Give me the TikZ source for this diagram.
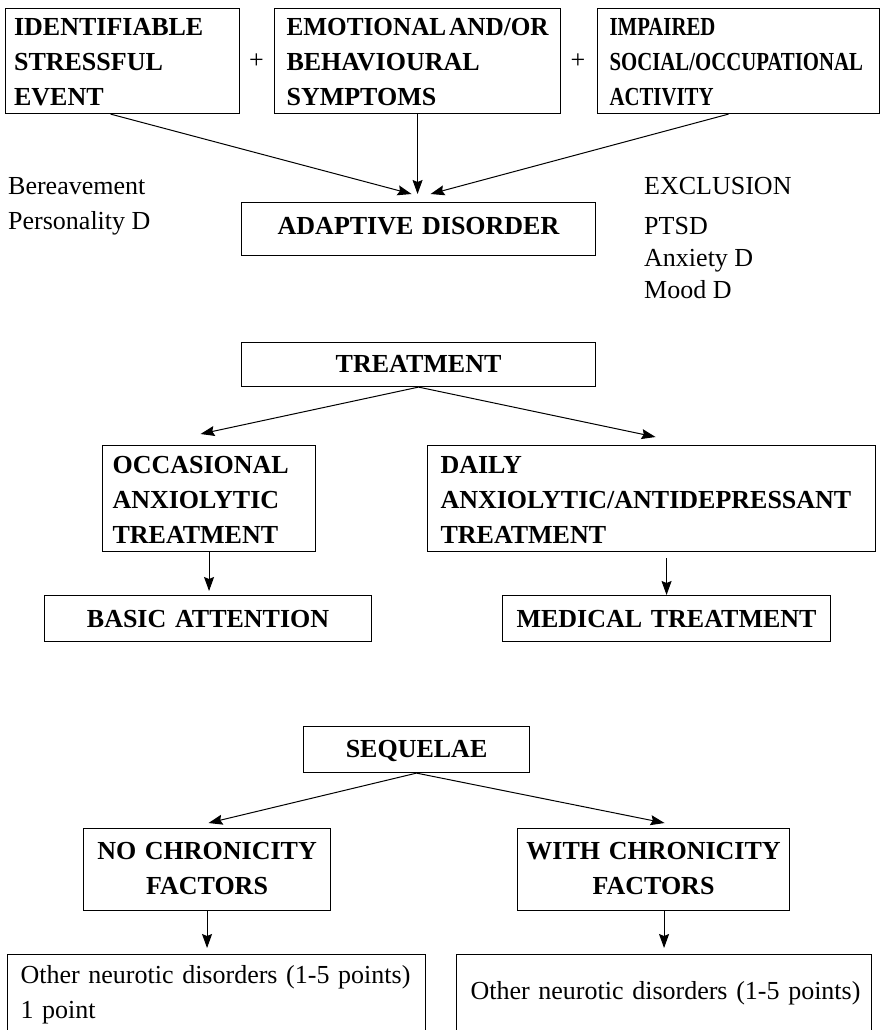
\documentclass[tikz,border=0pt]{standalone}
\usepackage{fontspec}
\setmainfont{Liberation Serif}
\usetikzlibrary{arrows.meta}
\begin{document}
\begin{tikzpicture}[x=1pt,y=-1pt,
  bx/.style={draw, line width=1.1pt, anchor=north west, inner ysep=0pt,
    font=\fontsize{26}{35}\selectfont\bfseries},
  lbx/.style={bx, align=left, inner xsep=#1},
  cbx/.style={bx, align=center, inner xsep=0pt},
  plain/.style={anchor=base west, inner sep=0pt, font=\fontsize{26}{35}\selectfont},
  arr/.style={-{Stealth[length=14pt,width=10pt,inset=2pt]}, line width=1pt}
]
\clip (0,0) rectangle (882,1030);
\fill[white] (0,0) rectangle (882,1030);

% top row
\node[lbx=9pt, text width=216.5pt, text height=26.6pt, text depth=78.4pt] (b1) at (4.5,8)
  {IDENTIFIABLE\\STRESSFUL\\EVENT};
\node[lbx=12pt, text width=262pt, text height=26.6pt, text depth=78.4pt] (b2) at (274,8)
  {\scalebox{0.97}[1]{EMOTIONAL\hspace{3pt}AND/OR}\\BEHAVIOURAL\\SYMPTOMS};
\node[lbx=12pt, text width=258pt, text height=26.6pt, text depth=78.4pt] (b3) at (597,8)
  {\scalebox{0.8}[1]{IMPAIRED}\\\scalebox{0.8}[1]{SOCIAL/OCCUPATIONAL}\\\scalebox{0.8}[1]{ACTIVITY}};
\node[font=\fontsize{26}{35}\selectfont, inner sep=0pt] (p1) at (256.5,61) {+};
\node[font=\fontsize{26}{35}\selectfont, inner sep=0pt] (p2) at (578,61) {+};

\node[cbx, text width=354pt, text height=31.6pt, text depth=21.4pt] (adapt) at (241,202)
  {ADAPTIVE DISORDER};

\draw[arr] ([xshift=-11.75pt]b1.south) -- ([xshift=-7pt,yshift=8pt]adapt.north);
\draw[arr] (b2.south) -- ([xshift=-1pt,yshift=8pt]adapt.north);
\draw[arr] ([xshift=-10pt]b3.south) -- ([xshift=12pt,yshift=8pt]adapt.north);

\node[plain] (ber) at (8,194.6) {Bereavement};
\node[plain] (pers) at (8,229.6) {Personality D};
\node[plain] (excl) at (644,194) {EXCLUSION};
\node[plain] (ptsd) at (644,234) {PTSD};
\node[plain] (anx) at (644,266) {Anxiety D};
\node[plain] (mood) at (644,298) {Mood D};

% treatment
\node[cbx, text width=354pt, text height=29.6pt, text depth=14.4pt] (treat) at (241,342)
  {TREATMENT};
\node[lbx=10pt, text width=193pt, text height=27.6pt, text depth=78.4pt] (occ) at (102,445)
  {OCCASIONAL\\ANXIOLYTIC\\TREATMENT};
\node[lbx=13pt, text width=422pt, text height=27.6pt, text depth=78.4pt] (daily) at (427,445)
  {DAILY\\ANXIOLYTIC/ANTIDEPRESSANT\\TREATMENT};
\node[cbx, text width=327pt, text height=31.6pt, text depth=14.4pt] (basic) at (44,595)
  {BASIC ATTENTION};
\node[cbx, text width=328pt, text height=31.6pt, text depth=14.4pt] (med) at (502,595)
  {MEDICAL TREATMENT};

\draw[arr] (treat.south) -- ([xshift=-8.5pt,yshift=11pt]occ.north);
\draw[arr] (treat.south) -- ([xshift=4pt,yshift=8pt]daily.north);
\draw[arr, shorten >=4pt] (occ.south) -- (occ.south |- basic.north);
\draw[arr, shorten <=6pt] (daily.south -| med.north) -- (med.north);

% sequelae
\node[cbx, text width=226pt, text height=30.6pt, text depth=15.4pt] (seq) at (303,726)
  {SEQUELAE};
\node[cbx, text width=247pt, text height=30.6pt, text depth=51.4pt] (no) at (83,828)
  {NO CHRONICITY\\FACTORS};
\node[cbx, text width=272pt, text height=30.6pt, text depth=51.4pt] (with) at (517,828)
  {WITH CHRONICITY\\FACTORS};
\node[lbx=6pt, text width=406pt, text height=28.6pt, text depth=100pt, font=\fontsize{26}{35}\selectfont] (oth1) at (7,954)
  {\hspace*{7pt}Other neurotic disorders (1-5 points)\\\hspace*{7pt}1 point};
\node[lbx=6pt, text width=403pt, text height=44.6pt, text depth=100pt, font=\fontsize{26}{35}\selectfont] (oth2) at (456,954)
  {\hspace*{8pt}Other neurotic disorders (1-5 points)};

\draw[arr] (seq.south) -- ([xshift=1.5pt,yshift=5pt]no.north);
\draw[arr] (seq.south) -- ([xshift=11pt,yshift=5pt]with.north);
\draw[arr, shorten >=6pt] (no.south) -- (no.south |- oth1.north);
\draw[arr, shorten >=6pt] (oth2.north |- with.south) -- (oth2.north);
\end{tikzpicture}
\end{document}
